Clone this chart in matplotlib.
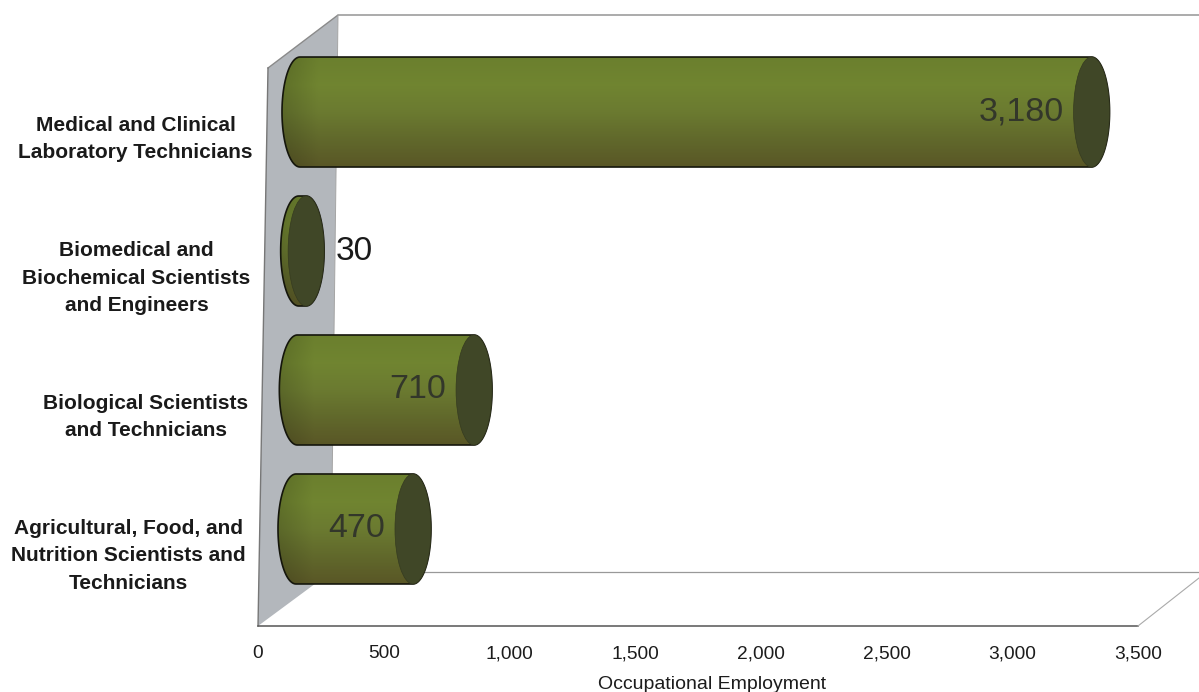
import numpy as np
import matplotlib
matplotlib.use("Agg")
import matplotlib.pyplot as plt
from matplotlib.patches import Polygon, Ellipse
from matplotlib.transforms import Affine2D

plt.rcParams['font.family'] = ['Liberation Sans', 'DejaVu Sans']

### Data, bottom row first
categories = ["Agricultural, Food, and\nNutrition Scientists and\nTechnicians",
              "Biological Scientists\nand Technicians",
              "Biomedical and\nBiochemical Scientists\nand Engineers",
              "Medical and Clinical\nLaboratory Technicians"]
employment = [470, 710, 30, 3180]
x_ticks = [0, 500, 1000, 1500, 2000, 2500, 3000, 3500]

W, H = 1199, 692
fig = plt.figure(figsize=(W/100, H/100), dpi=100)
# axes box: value 0 to 3500 on the front floor edge
ax = fig.add_axes([258/W, 1-626/H, (1138-258)/W, (626-15)/H], zorder=5)
px = 880/3500   # pixels per unit
row = 139       # pixels per row

# frame of the 3d box, in figure pixels
frame = Affine2D().scale(1/W, -1/H).translate(0, 1) + fig.transFigure
fig.add_artist(Polygon([(268, 68), (338, 15), (331, 572), (258, 626)], closed=True,
                       fc='#b3b7bc', ec='none', transform=frame, zorder=0))
for xs, ys, c, lw in [((268, 338, 1199), (68, 15, 15), '#8a8a8a', 1.0),
                      ((268, 258), (68, 626), '#777777', 1.0),
                      ((338, 331), (15, 572), '#a5a5a5', 0.7),
                      ((258, 1138), (626, 626), '#555555', 1.1),
                      ((1138, 1199), (626, 578), '#aaaaaa', 0.8),
                      ((400, 1199), (572, 572), '#999999', 0.9)]:
    fig.add_artist(plt.Line2D(xs, ys, color=c, lw=lw, transform=frame, zorder=1))

ax.patch.set_visible(False)
for s in ax.spines.values():
    s.set_visible(False)
ax.set_yticks([])
ax.set_xticks(x_ticks)
ax.set_xticklabels([f"{t:,}" for t in x_ticks], fontsize=13.8, color='#1c1c1c', va='baseline')
ax.tick_params(axis='x', length=0, pad=23.4)
ax.set_xlabel("Occupational Employment", fontsize=14, color='#1c1c1c', va='baseline')
ax.xaxis.set_label_coords((712-258)/880, -(689-626)/611)

### Cylinder shading: top to bottom, then darker towards the left end
stops = np.array([[0.42, 0.50, 0.18], [0.44, 0.52, 0.19], [0.42, 0.48, 0.19],
                  [0.38, 0.41, 0.17], [0.35, 0.34, 0.15]])
v = np.linspace(0, 1, 64)
shade = np.stack([np.interp(v, np.linspace(0, 1, 5), stops[:, i]) for i in range(3)], axis=1)

a = 18/px       # end cap half width
b = 55/row      # end cap half height
t = np.linspace(-np.pi/2, np.pi/2, 60)

for y, val, cat in zip(range(len(employment)), employment, categories):
    # rows further back sit a little further to the right
    x0 = (296 + 4*y/3 - 258)/px
    x1 = x0 + 0.99*val
    right = np.c_[x1 + a*np.cos(t), y + b*np.sin(t)]
    left = np.c_[x0 - a*np.cos(t), y + b*np.sin(t)][::-1]
    body = Polygon(np.r_[right, left], closed=True, fc='none', ec='#15160c', lw=1.2,
                   zorder=4, clip_on=False)
    ax.add_patch(body)
    ramp = np.clip((np.linspace(x0 - a, x1 + a, 300) - x0 + a)*px/35, 0, 1)[None, :, None]
    img = shade[:, None, :] * (0.85 + 0.15*ramp)
    im = ax.imshow(img, extent=(x0 - a, x1 + a, y - b, y + b), origin='upper', aspect='auto',
                   zorder=3)
    im.set_clip_path(body)
    ax.add_patch(Ellipse((x1, y), 2*a, 2*b, fc='#404727', ec='#363b20', lw=0.5, zorder=5,
                         clip_on=False))
    txt = f"{val:,}"
    if val > 100:
        ax.annotate(txt, (x1 - a, y), xytext=(-7, 0), textcoords='offset points', ha='right',
                    va='center', fontsize=24.5, color='#33372a', zorder=6)
    else:
        ax.annotate(txt, (x1 + a, y), xytext=(8, 0), textcoords='offset points', ha='left',
                    va='center', fontsize=24, color='#1a1a1a', zorder=6)
    # category labels drift with the left wall
    ax.annotate(cat, (0, y), xytext=((-12 + 2.3*y)*0.72, -27*0.72), textcoords='offset points',
                ha='right', va='center', multialignment='center', fontsize=15,
                fontweight='bold', color='#1a1a1a', linespacing=1.55, annotation_clip=False)

ax.set_xlim(0, 3500)
ax.set_ylim(-0.698, 3.698)
fig.savefig("out.png", dpi=100)
